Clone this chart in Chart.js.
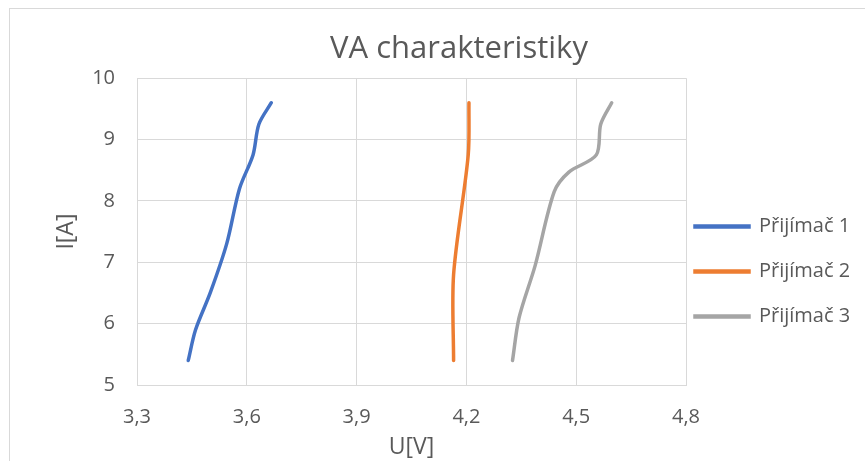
<!DOCTYPE html>
<html>
<head>
<meta charset="utf-8">
<script src="https://cdn.jsdelivr.net/npm/chart.js@4"></script>
<style>
  body { margin: 0; background: #fff; }
  #wrap { position: relative; width: 865px; height: 461px; }
  #ramecek { position: absolute; left: 9px; top: 8px; right: 0; bottom: 0; border-top: 1px solid #d9d9d9; border-left: 1px solid #d9d9d9; }
  canvas { position: absolute; left: 0; top: 0; }
</style>
</head>
<body>
<div id="wrap">
  <div id="ramecek"></div>
  <canvas id="graf" width="865" height="461"></canvas>
</div>
<script>
// Data
const nazvy = ['Přijímač 1', 'Přijímač 2', 'Přijímač 3'];
const barvy = ['#4472C4', '#ED7D31', '#A5A5A5'];

const prijimac1U = [3.44, 3.46, 3.50, 3.545, 3.58, 3.617, 3.633, 3.667];
const prijimac1I = [5.4, 5.9, 6.5, 7.3, 8.2, 8.75, 9.25, 9.6];

const prijimac2U = [4.165, 4.165, 4.205, 4.207];
const prijimac2I = [5.4, 6.8, 8.75, 9.6];

const prijimac3U = [4.326, 4.344, 4.388, 4.44, 4.48, 4.555, 4.567, 4.597];
const prijimac3I = [5.4, 6.1, 6.95, 8.15, 8.47, 8.75, 9.25, 9.6];

const xTicks = [3.3, 3.6, 3.9, 4.2, 4.5, 4.8];
const yTicks = [5, 6, 7, 8, 9, 10];

function body(u, i) {
    return u.map((v, k) => ({ x: v, y: i[k] }));
}

const serie = [
    body(prijimac1U, prijimac1I),
    body(prijimac2U, prijimac2I),
    body(prijimac3U, prijimac3I)
];

const sedaText = '#595959';
const mrizka = '#d9d9d9';
const pismo = '"Open Sans", sans-serif';

// Legenda je v Excelu trochu níž a blíž k grafu
const posunLegendy = {
    id: 'posunLegendy',
    afterLayout(chart) {
        const l = chart.legend;
        l.left -= 16;
        l.right -= 16;
        l.top += 41;
        l.bottom += 41;
    }
};

new Chart(document.getElementById('graf'), {
    type: 'scatter',
    data: {
        datasets: serie.map((data, k) => ({
            label: nazvy[k],
            data: data,
            showLine: true,
            borderColor: barvy[k],
            backgroundColor: barvy[k],
            borderWidth: 3.5,
            pointRadius: 0,
            tension: 0.3,
            borderCapStyle: 'round'
        }))
    },
    plugins: [posunLegendy],
    options: {
        responsive: false,
        animation: false,
        layout: { padding: { left: 53, right: 0, top: 0, bottom: 0 } },
        plugins: {
            title: {
                display: true,
                text: 'VA charakteristiky',
                color: sedaText,
                font: { family: pismo, size: 31, weight: 'normal' },
                padding: { top: 31, bottom: 10 }
            },
            legend: {
                position: 'right',
                maxWidth: 179,
                labels: {
                    color: sedaText,
                    font: { family: pismo, size: 20 },
                    boxWidth: 54,
                    boxHeight: 1,
                    padding: 25
                }
            },
            tooltip: { enabled: false }
        },
        scales: {
            x: {
                type: 'linear',
                min: 3.3,
                max: 4.8,
                afterBuildTicks: s => { s.ticks = xTicks.map(v => ({ value: v })); },
                afterFit: s => { s.height = 76; },
                ticks: {
                    color: sedaText,
                    font: { family: pismo, size: 20 },
                    padding: 20,
                    callback: v => v.toFixed(1).replace('.', ',')
                },
                grid: { color: mrizka, lineWidth: 1, drawTicks: false },
                border: { color: mrizka },
                title: {
                    display: true,
                    text: 'U[V]',
                    color: sedaText,
                    font: { family: pismo, size: 23 },
                    padding: { top: 0, bottom: 0 }
                }
            },
            y: {
                min: 5,
                max: 10,
                afterBuildTicks: s => { s.ticks = yTicks.map(v => ({ value: v })); },
                afterFit: s => { s.width = 84; },
                ticks: {
                    color: sedaText,
                    font: { family: pismo, size: 20 },
                    padding: 22
                },
                grid: { color: mrizka, lineWidth: 1, drawTicks: false },
                border: { color: mrizka },
                title: {
                    display: true,
                    text: 'I[A]',
                    color: sedaText,
                    font: { family: pismo, size: 23 },
                    padding: { top: 0, bottom: 0 }
                }
            }
        }
    }
});
</script>
</body>
</html>
